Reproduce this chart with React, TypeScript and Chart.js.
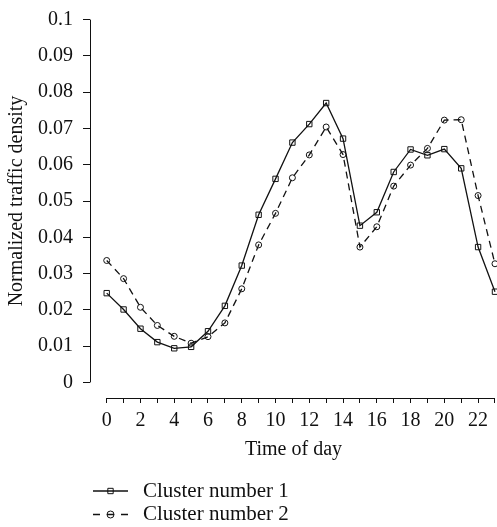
import React, { useEffect, useRef } from "react";
import { Chart, registerables } from "chart.js";

Chart.register(...registerables);

const hours = [0, 1, 2, 3, 4, 5, 6, 7, 8, 9, 10, 11, 12, 13, 14, 15, 16, 17, 18, 19, 20, 21, 22, 23];
const cluster1 = [0.0246, 0.0201, 0.0148, 0.0111, 0.0094, 0.0098, 0.0141, 0.0211, 0.0322, 0.0462, 0.0561, 0.0661, 0.0712, 0.077, 0.0672, 0.0432, 0.0469, 0.058, 0.0642, 0.0626, 0.0643, 0.059, 0.0373, 0.025];
const cluster2 = [0.0336, 0.0286, 0.0207, 0.0157, 0.0127, 0.0108, 0.0126, 0.0164, 0.0258, 0.0379, 0.0466, 0.0564, 0.0627, 0.0704, 0.0628, 0.0373, 0.0429, 0.0541, 0.0599, 0.0645, 0.0723, 0.0724, 0.0515, 0.0327];
const xTickLabels = ["0", "", "2", "", "4", "", "6", "", "8", "", "10", "", "12", "", "14", "", "16", "", "18", "", "20", "", "22", ""];
const yTickValues = [0, 0.01, 0.02, 0.03, 0.04, 0.05, 0.06, 0.07, 0.08, 0.09, 0.1];
const yTickLabels = ["0", "0.01", "0.02", "0.03", "0.04", "0.05", "0.06", "0.07", "0.08", "0.09", "0.1"];
const seriesNames = ["Cluster number 1", "Cluster number 2"];

const FONT = "'Liberation Serif', 'Times New Roman', serif";
const INK = "#111";

const axesPlugin = {
  id: "detachedAxes",
  afterDraw(chart: any) {
    const { ctx, chartArea, scales } = chart;
    const xs = scales.x;
    const ys = scales.y;
    ctx.save();
    ctx.strokeStyle = INK;
    ctx.lineWidth = 1;
    ctx.setLineDash([]);
    // y axis line
    const yx = Math.round(chartArea.left) + 0.5;
    ctx.beginPath();
    ctx.moveTo(yx, ys.getPixelForValue(yTickValues[0]));
    ctx.lineTo(yx, ys.getPixelForValue(yTickValues[yTickValues.length - 1]));
    ctx.stroke();
    // x axis line
    const xy = Math.round(chartArea.bottom) + 0.5;
    ctx.beginPath();
    ctx.moveTo(xs.getPixelForValue(hours[0]), xy);
    ctx.lineTo(xs.getPixelForValue(hours[hours.length - 1]), xy);
    ctx.stroke();

    // legend
    const datasets = chart.data.datasets;
    const lx0 = 93;
    const lx1 = 128;
    const baseY = 491;
    const step = 23.5;
    ctx.font = `21px ${FONT}`;
    ctx.textBaseline = "middle";
    ctx.textAlign = "left";
    datasets.forEach((ds: any, i: number) => {
      const y = baseY + i * step;
      ctx.strokeStyle = INK;
      ctx.lineWidth = 1.3;
      ctx.setLineDash(i === 0 ? [] : [7, 7]);
      ctx.beginPath();
      ctx.moveTo(lx0, y);
      ctx.lineTo(lx1, y);
      ctx.stroke();
      ctx.setLineDash([]);
      ctx.lineWidth = 1;
      const cx = (lx0 + lx1) / 2;
      ctx.beginPath();
      if (ds.pointStyle === "rect") {
        const s = ds.pointRadius * Math.SQRT1_2;
        ctx.rect(cx - s, y - s, 2 * s, 2 * s);
      } else {
        ctx.arc(cx, y, ds.pointRadius + 0.5, 0, Math.PI * 2);
      }
      ctx.stroke();
      ctx.fillStyle = INK;
      ctx.fillText(ds.label, 143, y);
    });
    ctx.restore();
  },
};

const zeroPad = (scale: any) => {
  scale.paddingTop = 0;
  scale.paddingBottom = 0;
  scale.paddingLeft = 0;
  scale.paddingRight = 0;
};

export default function App() {
  const ref = useRef<HTMLCanvasElement | null>(null);

  useEffect(() => {
    if (!ref.current) return;
    const chart = new Chart(ref.current, {
      type: "line",
      data: {
        datasets: [
          {
            label: seriesNames[0],
            data: hours.map((h, i) => ({ x: h, y: cluster1[i] })),
            borderColor: INK,
            borderWidth: 1.3,
            pointStyle: "rect",
            pointRadius: 3.8,
            pointBorderWidth: 1,
            pointBorderColor: INK,
            pointBackgroundColor: "rgba(0,0,0,0)",
            tension: 0,
            fill: false,
          },
          {
            label: seriesNames[1],
            data: hours.map((h, i) => ({ x: h, y: cluster2[i] })),
            borderColor: INK,
            borderWidth: 1.3,
            borderDash: [7, 5],
            pointStyle: "circle",
            pointRadius: 3,
            pointBorderWidth: 1,
            pointBorderColor: INK,
            pointBackgroundColor: "rgba(0,0,0,0)",
            tension: 0,
            fill: false,
          },
        ],
      },
      options: {
        animation: false,
        responsive: false,
        devicePixelRatio: 1,
        layout: { autoPadding: false, padding: { top: 4, left: 0, right: 0, bottom: 0 } },
        plugins: {
          legend: { display: false },
          tooltip: { enabled: false },
        },
        scales: {
          x: {
            type: "linear",
            min: -0.99,
            max: 23.12,
            afterBuildTicks: (scale: any) => {
              scale.ticks = hours.map((v) => ({ value: v }));
            },
            afterFit: (scale: any) => {
              scale.height = 129;
              zeroPad(scale);
            },
            ticks: {
              autoSkip: false,
              maxRotation: 0,
              minRotation: 0,
              padding: 6,
              color: INK,
              font: { family: FONT, size: 20 },
              callback: (_v: any, i: number) => xTickLabels[i],
            },
            grid: {
              display: true,
              drawOnChartArea: false,
              drawTicks: true,
              tickLength: 5,
              color: INK,
              lineWidth: 1,
            },
            border: { display: false },
            title: {
              display: true,
              text: "Time of day",
              color: INK,
              font: { family: FONT, size: 20 },
              padding: { top: 0, bottom: 65 },
            },
          },
          y: {
            type: "linear",
            min: -0.0043,
            max: 0.1043,
            afterBuildTicks: (scale: any) => {
              scale.ticks = yTickValues.map((v) => ({ value: v }));
            },
            afterFit: (scale: any) => {
              scale.width = 90;
              zeroPad(scale);
            },
            ticks: {
              autoSkip: false,
              padding: 10,
              color: INK,
              font: { family: FONT, size: 20 },
              callback: (_v: any, i: number) => yTickLabels[i],
            },
            grid: {
              display: true,
              drawOnChartArea: false,
              drawTicks: true,
              tickLength: 7,
              color: INK,
              lineWidth: 1,
            },
            border: { display: false },
            title: {
              display: true,
              text: "Normalized traffic density",
              color: INK,
              font: { family: FONT, size: 20 },
              padding: { top: 5, bottom: 0 },
            },
          },
        },
      },
      plugins: [axesPlugin],
    });
    return () => chart.destroy();
  }, []);

  return (
    <div style={{ position: "fixed", left: 0, top: 0, width: 497, height: 527, overflow: "hidden", background: "#fff" }}>
      <canvas ref={ref} width={497} height={527} style={{ display: "block", width: 497, height: 527 }} />
    </div>
  );
}
